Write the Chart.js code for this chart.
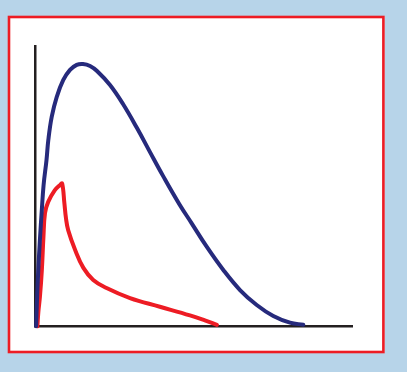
<!DOCTYPE html>
<html>
<head>
<meta charset="utf-8">
<script src="https://cdn.jsdelivr.net/npm/chart.js@4"></script>
<style>
  html, body { margin: 0; padding: 0; background: #b7d4e9; }
  #wrap { position: relative; width: 407px; height: 372px; }
</style>
</head>
<body>
<div id="wrap"><canvas id="chart"></canvas></div>
<script>
// blue curve (axis units 0-100)
const blueX = [0.2, 0.47, 0.88, 1.39, 1.99, 2.55, 3.47, 4.04, 5.11, 6.68, 8.76, 10.88, 12.99, 14.97, 17.2, 19.39, 23.49, 27.59, 32.0, 36.1, 40.2, 45.5, 49.24, 53.97, 59.21, 64.47, 69.74, 74.97, 80.23, 84.43];
const blueY = [0, 9.4, 20.1, 30.9, 41.6, 50.5, 59.5, 66.6, 74.9, 82.0, 88.1, 91.7, 93.5, 93.8, 93.1, 91.3, 86.3, 79.5, 70.9, 62.3, 53.8, 43.4, 36.84, 28.47, 20.14, 12.98, 7.62, 3.68, 1.29, 0.57];

// red curve
const redX = [0.6, 0.9, 1.4, 2.0, 2.5, 3.0, 4.0, 6.1, 7.7, 8.4, 9.1, 9.6, 10.3, 12.5, 15.1, 18.2, 22.4, 29.8, 39.2, 48.7, 53.4, 57.2];
const redY = [0, 5.1, 10.6, 20.1, 31.9, 40.5, 44.5, 48.7, 50.5, 51.1, 44.1, 38.7, 34.4, 27.3, 20.9, 16.6, 13.7, 10.1, 7.0, 3.9, 2.1, 0.5];

const axisMin = 0;
const axisMax = 100;

const toPoints = (xs, ys) => xs.map((x, i) => ({ x: x, y: ys[i] }));

// white panel with red frame behind the plot
const framePlugin = {
  id: "frame",
  beforeDraw(chart) {
    const ctx = chart.ctx;
    ctx.save();
    ctx.fillStyle = "#b7d4e9";
    ctx.fillRect(0, 0, chart.width, chart.height);
    ctx.fillStyle = "#ffffff";
    ctx.fillRect(8, 16, 376.5, 337);
    ctx.strokeStyle = "#ed1c24";
    ctx.lineWidth = 2.6;
    ctx.strokeRect(9, 17, 374.4, 335);
    ctx.restore();
  },
};

const axisStyle = {
  type: "linear",
  min: axisMin,
  max: axisMax,
  grid: { display: false, drawTicks: false },
  ticks: { display: false },
  border: { display: true, color: "#231f20", width: 2.5 },
};

const lineStyle = {
  borderWidth: 4,
  pointRadius: 0,
  tension: 0.4,
  borderCapStyle: "round",
  borderJoinStyle: "round",
  clip: false,
};

new Chart(document.getElementById("chart"), {
  type: "line",
  data: {
    datasets: [
      { ...lineStyle, data: toPoints(blueX, blueY), borderColor: "#262a7c" },
      { ...lineStyle, data: toPoints(redX, redY), borderColor: "#ed1c24" },
    ],
  },
  options: {
    responsive: true,
    maintainAspectRatio: false,
    animation: false,
    layout: { padding: { left: 35.5, top: 46.7, right: 54.3, bottom: 45.7 } },
    plugins: { legend: { display: false }, tooltip: { enabled: false } },
    scales: { x: axisStyle, y: axisStyle },
  },
  plugins: [framePlugin],
});
</script>
</body>
</html>
